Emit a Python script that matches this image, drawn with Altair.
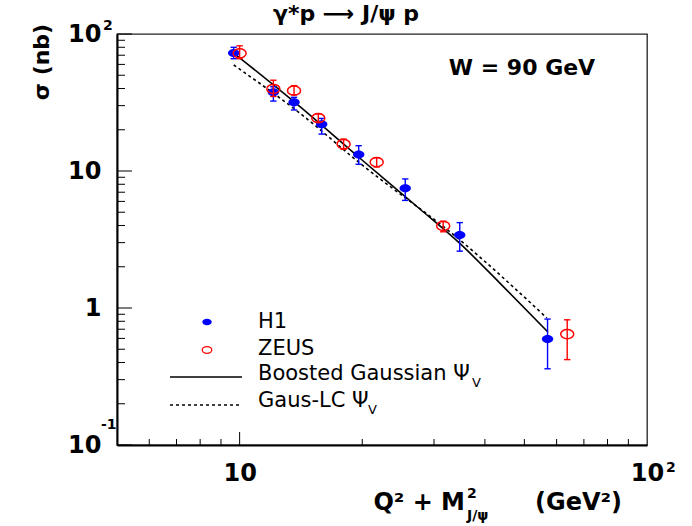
import altair as alt
import pandas as pd

# ---- data ----
h1_x = [9.67, 12.1, 13.6, 15.9, 19.6, 25.5, 34.7, 57.0]
h1_y = [72.7, 37.5, 31.7, 21.9, 13.2, 7.48, 3.41, 0.594]
h1_hi = [80.0, 41.2, 34.5, 24.2, 15.3, 8.75, 4.2, 0.83]
h1_lo = [66.0, 32.4, 27.9, 18.6, 11.2, 6.1, 2.6, 0.36]

zeus_x = [10.0, 12.1, 13.6, 15.6, 18.0, 21.7, 31.6, 63.7]
zeus_y = [72.3, 39.7, 38.6, 24.3, 15.7, 11.6, 3.97, 0.645]
zeus_hi = [82.0, 46.0, 42.0, 26.1, 17.1, 12.5, 4.3, 0.82]
zeus_lo = [66.0, 35.0, 36.0, 22.8, 14.4, 10.7, 3.6, 0.42]

bg_x = [9.67, 14.04, 19.71, 27.70, 34.72, 43.53, 57.12]
bg_y = [72.6, 29.6, 12.44, 5.28, 2.96, 1.52, 0.668]

lc_x = [9.67, 14.04, 19.71, 34.72, 56.8]
lc_y = [59.4, 26.5, 11.44, 3.14, 0.845]

y_major = [0.1, 1, 10, 100]
y_minor = [0.2, 0.3, 0.4, 0.5, 0.6, 0.7, 0.8, 0.9,
           2, 3, 4, 5, 6, 7, 8, 9, 20, 30, 40, 50, 60, 70, 80, 90]
x_labels = [10, 100]
x_major = [10]
x_minor = [6, 7, 8, 9, 20, 30, 40, 50, 60, 70, 80, 90]

FONT = "DejaVu Sans"

h1 = pd.DataFrame({"x": h1_x, "y": h1_y, "hi": h1_hi, "lo": h1_lo})
zeus = pd.DataFrame({"x": zeus_x, "y": zeus_y, "hi": zeus_hi, "lo": zeus_lo})
bg = pd.DataFrame({"x": bg_x, "y": bg_y})
lc = pd.DataFrame({"x": lc_x, "y": lc_y})

xs = alt.Scale(type="log", domain=[5, 100], nice=False)
ys = alt.Scale(type="log", domain=[0.1, 100], nice=False)

AX_X = alt.Axis(
    values=x_labels, labelExpr="'10'", labelFont=FONT, labelFontWeight="bold",
    labelFontSize=24, labelPadding=16, ticks=False, grid=False, domain=True,
    domainColor="black", domainWidth=2, title="", labelFlush=False,
    labelOverlap=False, labelColor="black")
AX_Y = alt.Axis(
    values=y_major, labelExpr="datum.value > 0.5 && datum.value < 2 ? '1' : '10'",
    labelFont=FONT, labelFontWeight="bold", labelFontSize=24, labelPadding=16,
    ticks=False, grid=False, domain=True, domainColor="black", domainWidth=2,
    title="", labelFlush=False, labelOverlap=False, labelColor="black")


def X(f):
    return alt.X(f, scale=xs, axis=AX_X, title="")


def Y(f):
    return alt.Y(f, scale=ys, axis=AX_Y, title="")


ELL = "M-1,0A1,0.7,0,1,0,1,0A1,0.7,0,1,0,-1,0Z"
CAP = "M-1,0L1,0"


def errbars(df, color):
    bars = alt.Chart(df).mark_rule(color=color, strokeWidth=1.4).encode(
        x=X("x:Q"), y=Y("lo:Q"), y2="hi:Q")
    cap_hi = alt.Chart(df).mark_point(shape=CAP, size=40, color=color, strokeWidth=1.4,
                                      filled=False, opacity=1).encode(x=X("x:Q"), y=Y("hi:Q"))
    cap_lo = alt.Chart(df).mark_point(shape=CAP, size=40, color=color, strokeWidth=1.4,
                                      filled=False, opacity=1).encode(x=X("x:Q"), y=Y("lo:Q"))
    return bars + cap_hi + cap_lo


solid = alt.Chart(bg).mark_line(color="black", strokeWidth=1.6, interpolate="monotone").encode(
    x=X("x:Q"), y=Y("y:Q"))
dashed = alt.Chart(lc).mark_line(color="black", strokeWidth=1.6, strokeDash=[3, 3],
                                 interpolate="monotone").encode(x=X("x:Q"), y=Y("y:Q"))

h1_pts = alt.Chart(h1).mark_point(shape=ELL, size=130, color="#0000ff", filled=True,
                                  opacity=1).encode(x=X("x:Q"), y=Y("y:Q"))
zeus_pts = alt.Chart(zeus).mark_point(shape=ELL, size=170, color="#ff0000", filled=False,
                                      strokeWidth=1.5, opacity=1).encode(x=X("x:Q"), y=Y("y:Q"))

# inner ticks (ROOT style)
ymaj = alt.Chart(pd.DataFrame({"v": y_major})).mark_rule(color="black", strokeWidth=1).encode(
    y=Y("v:Q"), x=alt.value(0), x2=alt.value(15))
ymin = alt.Chart(pd.DataFrame({"v": y_minor})).mark_rule(color="black", strokeWidth=1).encode(
    y=Y("v:Q"), x=alt.value(0), x2=alt.value(8))
xmaj = alt.Chart(pd.DataFrame({"v": x_major})).mark_rule(color="black", strokeWidth=1).encode(
    x=X("v:Q"), y=alt.value(411), y2=alt.value(398))
xmin = alt.Chart(pd.DataFrame({"v": x_minor})).mark_rule(color="black", strokeWidth=1).encode(
    x=X("v:Q"), y=alt.value(411), y2=alt.value(405))


def txt(text, x, y, size=22, bold=False, align="left", angle=0, color="black", baseline="middle"):
    kw = dict(text=text, font=FONT, fontSize=size, fontWeight="bold" if bold else "normal",
              align=align, baseline=baseline, color=color)
    if angle:
        kw["angle"] = angle
    return alt.Chart(pd.DataFrame({"a": [0]})).mark_text(**kw).encode(
        x=alt.value(x), y=alt.value(y))


texts = [
    txt("γ*p ⟶ J/ψ p", 229, -20, 22, True, "center"),
    txt("W = 90 GeV", 405, 34, 22, True, "center"),
    txt("σ (nb)", -75, 28, 22, True, "center", angle=270),
    # exponent marks on tick labels
    txt("2", -14, -8, 14, True),
    txt("-1", -16, 391, 14, True),
    txt("2", 549, 434, 14, True),
    # x title
    txt("Q² + M", 348, 469, 24, True, "right"),
    txt("2", 350, 460, 14, True),
    txt("J/ψ", 350, 482, 14, True),
    txt("(GeV²)", 418, 469, 24, True, "left"),
    # legend
    txt("H1", 141, 288, 21),
    txt("ZEUS", 141, 315, 21),
    txt("Boosted Gaussian Ψ", 141, 340, 21),
    txt("V", 355, 349, 13),
    txt("Gaus-LC Ψ", 141, 367, 21),
    txt("V", 251, 376, 13),
]

one = pd.DataFrame({"a": [0]})
leg_h1 = alt.Chart(one).mark_point(shape=ELL, size=90, color="#0000ff", filled=True,
                                   opacity=1).encode(x=alt.value(90), y=alt.value(288))
leg_zeus = alt.Chart(one).mark_point(shape=ELL, size=90, color="#ff0000", filled=False,
                                     strokeWidth=1.3, opacity=1).encode(x=alt.value(90), y=alt.value(316))
leg_solid = alt.Chart(one).mark_rule(color="black", strokeWidth=1.3).encode(
    x=alt.value(53), x2=alt.value(125), y=alt.value(343))
leg_dash = alt.Chart(one).mark_rule(color="black", strokeWidth=1.3, strokeDash=[3, 3]).encode(
    x=alt.value(53), x2=alt.value(125), y=alt.value(371))

chart = alt.layer(
    ymaj, ymin, xmaj, xmin,
    solid, dashed,
    errbars(h1, "#0000ff"), h1_pts,
    errbars(zeus, "#ff0000"), zeus_pts,
    leg_h1, leg_zeus, leg_solid, leg_dash,
    *texts,
).properties(
    width=530, height=411,
    padding={"left": 117, "top": 34, "right": 45, "bottom": 81},
    autosize=alt.AutoSizeParams(type="none"),
    background="white",
).configure_view(stroke="#222222", strokeWidth=1.3)

chart.save("out.html", embed_options={"renderer": "svg", "actions": False})
